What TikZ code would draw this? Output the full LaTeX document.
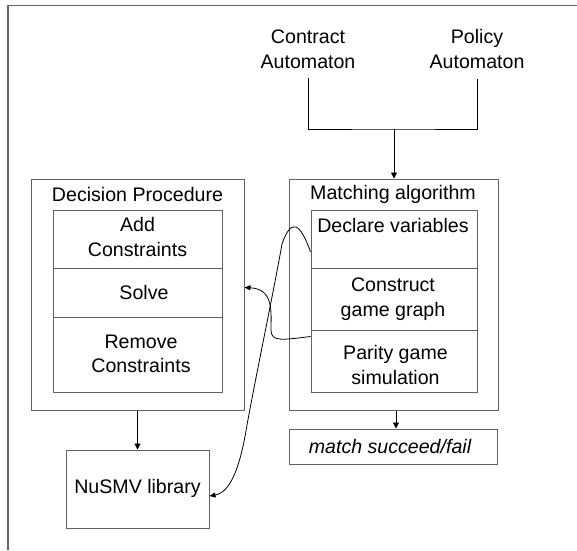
\documentclass[tikz,border=0pt]{standalone}
\usepackage{fontspec}
\setmainfont{Liberation Sans}
\usetikzlibrary{arrows.meta}
\begin{document}
\begin{tikzpicture}[x=1pt,y=-1pt,
  boxline/.style={draw=black!62,line width=1pt},
  outerbox/.style={boxline,rectangle,inner sep=0pt},
  txt/.style={inner sep=0pt,align=center,font=\fontsize{19.6}{24.5}\selectfont},
  arr/.style={draw=black,line width=0.8pt,-{Triangle[length=6pt,width=6pt]}},
  wire/.style={draw=black,line width=0.8pt},
  curvearr/.style={draw=black,line width=0.8pt,-{Triangle[length=6pt,width=5pt]}}]
\useasboundingbox (0,0) rectangle (577,550);
% frame
\draw[draw=black!60,line width=1.6pt] (8,550) -- (8,5.5) -- (577,5.5);

% top texts
\node[txt] (contract) at (308,49) {Contract\\Automaton};
\node[txt] (policy) at (477,49) {Policy\\Automaton};
\coordinate (join) at (394,129);

% Decision procedure
\node[outerbox,minimum width=213pt,minimum height=231pt] (dec) at (137.5,294.5) {};
\node[txt] (dectitle) at (137.5,194) {Decision Procedure};
\node[outerbox,minimum width=169pt,minimum height=58pt] (add) at (137.5,239) {};
\node[outerbox,minimum width=169pt,minimum height=49pt] (solve) at (137.5,292.5) {};
\node[outerbox,minimum width=169pt,minimum height=75pt] (remove) at (137.5,354.5) {};
\node[txt] (addt) at (137.5,237) {Add\\Constraints};
\node[txt] (solvet) at (144,292) {Solve};
\node[txt] (removet) at (141,354) {Remove\\Constraints};

% Matching algorithm
\node[outerbox,minimum width=209pt,minimum height=231pt] (match) at (393.5,294.5) {};
\node[txt] (mtitle) at (393,194) {Matching algorithm};
\node[outerbox,minimum width=166pt,minimum height=58pt] (declare) at (394,239) {};
\node[outerbox,minimum width=166pt,minimum height=62pt] (construct) at (394,299) {};
\node[outerbox,minimum width=166pt,minimum height=62pt] (parity) at (394,361) {};
\node[txt] (declaret) at (393,225) {Declare variables};
\node[txt] (constructt) at (393,299) {Construct\\game graph};
\node[txt] (parityt) at (395.5,365) {Parity game\\simulation};

% NuSMV
\node[outerbox,minimum width=143pt,minimum height=78pt] (nusmv) at (137.5,489) {};
\node[txt] (nusmvt) at (137.5,488) {NuSMV library};

% result
\node[outerbox,minimum width=208pt,minimum height=35pt] (result) at (393.5,446.5) {};
\node[txt,font=\fontsize{19.6}{24.5}\selectfont\itshape] (resultt) at (390,446) {match succeed/fail};

% connectors
\draw[wire] ([yshift=-10pt]contract.south) |- (join) -| ([yshift=-10pt]policy.south);
\draw[arr] (join) -- (join |- match.north);
\draw[arr] (dec.south) -- (nusmv.north);
\draw[arr] ([xshift=2.5pt]match.south) -- ([xshift=2.5pt]result.north);

% curves
\draw[curvearr] ([yshift=-7pt]parity.north west)
  .. controls (282,340) and (271,342) .. (271,330)
  .. controls (271,312) and (274,289) .. ([yshift=7pt]dec.east);
\draw[curvearr] ([yshift=-13pt]declare.west)
  .. controls (300,222) and (291,218) .. (282,244)
  .. controls (272,300) and (257,370) .. (247,425)
  .. controls (241,462) and (232,492) .. ([yshift=-7pt]nusmv.east);
\end{tikzpicture}
\end{document}
